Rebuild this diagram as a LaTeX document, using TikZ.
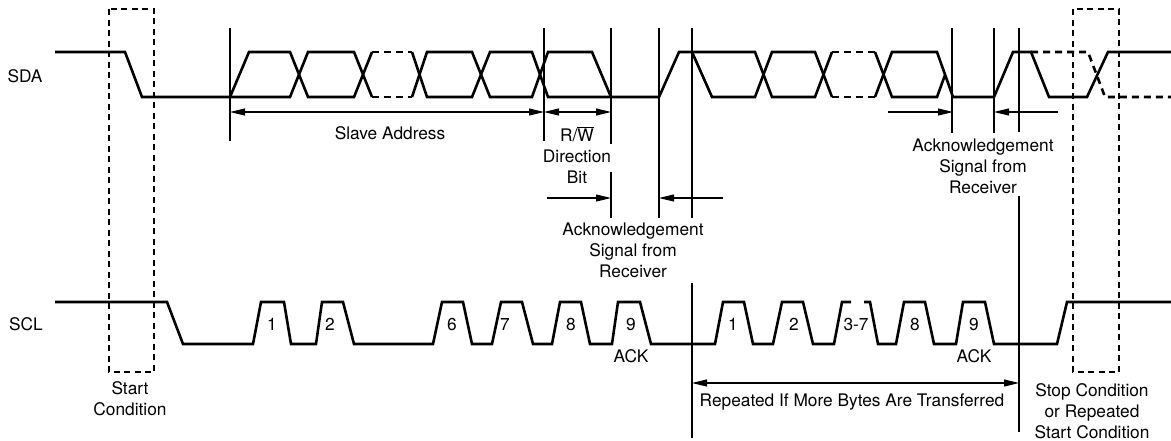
\documentclass[tikz,border=0pt]{standalone}
\usepackage{fontspec}
\setmainfont{TeX Gyre Heros}
\usetikzlibrary{arrows.meta}
\begin{document}
\begin{tikzpicture}[x=1pt,y=-1pt,
  sig/.style={line width=2.6pt},
  sigd/.style={sig, dash pattern=on 7pt off 5pt},
  guide/.style={line width=1.1pt},
  dbox/.style={line width=1.1pt, dash pattern=on 6pt off 4.5pt},
  tip/.tip={Triangle[length=15pt,width=7pt]},
  dimboth/.style={guide, tip-tip},
  dimto/.style={guide, -tip},
  lbl/.style={font=\fontsize{17.3}{21}\selectfont, inner sep=0pt, align=center},
]
\useasboundingbox (0,0) rectangle (1171,440);

% ---------- signal names ----------
\node[lbl] (sda) at (25,76) {SDA};
\node[lbl] (scl) at (26,324) {SCL};

% ---------- dashed condition boxes ----------
\draw[dbox] (109,9) rectangle (154,372);
\draw[dbox] (1073,9) rectangle (1119,372);

% ---------- SDA ----------
\draw[sig] (55,52) -- (125,52) -- (142,97) -- (290,97) -- (308,52) -- (354,52) -- (372,97);
\draw[sig] (230,97) -- (249,52) -- (290,52) -- (308,97) -- (354,97) -- (372,52);
\draw[sigd] (372,52) -- (412,52);
\draw[sigd] (372,97) -- (412,97);
\draw[sig] (412,52) -- (427,97) -- (472,97) -- (490,52) -- (532,52) -- (548,97) -- (659,97)
  -- (679,52) -- (755,52) -- (772,97) -- (815,97) -- (832,52);
\draw[sig] (412,97) -- (427,52) -- (472,52) -- (490,97) -- (532,97) -- (548,52) -- (592,52) -- (611,97);
\draw[sig] (692,52) -- (712,97) -- (755,97) -- (772,52) -- (815,52) -- (832,97);
\draw[sigd] (832,52) -- (875,52);
\draw[sigd] (832,97) -- (875,97);
\draw[sig] (875,52) -- (892,97) -- (937,97) -- (945,75);
\draw[sig] (875,97) -- (892,52) -- (937,52) -- (953,97) -- (994,97) -- (1013,52) -- (1031,52)
  -- (1049,97) -- (1087,97) -- (1108,52) -- (1171,52);
\draw[sigd] (1031,52) -- (1088,52) -- (1105,97) -- (1171,97);

% ---------- SCL ----------
\draw[sig] (55,302) -- (167,302) -- (183,344) -- (253,344) -- (261,302) -- (284,302) -- (291,344)
  -- (316,344) -- (322,302) -- (343,302) -- (354,344) -- (433,344) -- (442,302) -- (463,302)
  -- (472,344) -- (492,344) -- (501,302) -- (522,302) -- (533,344) -- (552,344) -- (560,302)
  -- (581,302) -- (590,344) -- (612,344) -- (618,302) -- (640,302) -- (651,344) -- (715,344)
  -- (723,302) -- (744,302) -- (753,344) -- (773,344) -- (782,302) -- (803,302) -- (813,344)
  -- (834,344) -- (842,302) -- (851,302);
\draw[sig] (864,302) -- (870,302) -- (878,344) -- (896,344) -- (904,302) -- (925,302) -- (934,344)
  -- (956,344) -- (963,302) -- (985,302) -- (994,344) -- (1057,344) -- (1067,302) -- (1171,302);

% pulse numbers
\node[lbl] (p1) at (272,324) {1};
\node[lbl] (p2) at (330,324) {2};
\node[lbl] (p6) at (452,324) {6};
\node[lbl] (p7) at (505,324) {7};
\node[lbl] (p8) at (571,324) {8};
\node[lbl] (p9) at (631,324) {9};
\node[lbl] (ack1) at (631,356) {ACK};
\node[lbl] (q1) at (733,324) {1};
\node[lbl] (q2) at (794,324) {2};
\node[lbl] (q37) at (856,324) {3-7};
\node[lbl] (q8) at (915,324) {8};
\node[lbl] (q9) at (974,324) {9};
\node[lbl] (ack2) at (974,356) {ACK};

% ---------- guide lines ----------
\coordinate (g1t) at (230,28);  \coordinate (g1b) at (230,141);
\coordinate (g2t) at (544,28);  \coordinate (g2b) at (544,141);
\coordinate (g3t) at (611,28);  \coordinate (g3m) at (611,144);
\coordinate (g3n) at (611,172); \coordinate (g3b) at (611,218);
\coordinate (g4t) at (659,28);  \coordinate (g4b) at (659,218);
\coordinate (g5t) at (692,28);  \coordinate (g5b) at (692,218);
\coordinate (g6t) at (692,283); \coordinate (g6b) at (692,438);
\coordinate (g7t) at (952,28);  \coordinate (g7b) at (952,133);
\coordinate (g8t) at (994,28);  \coordinate (g8b) at (994,133);
\coordinate (g9t) at (1019,28); \coordinate (g9m) at (1019,132);
\coordinate (g9n) at (1019,196); \coordinate (g9b) at (1019,432);
\draw[guide] (g1t) -- (g1b);
\draw[guide] (g2t) -- (g2b);
\draw[guide] (g3t) -- (g3m);
\draw[guide] (g3n) -- (g3b);
\draw[guide] (g4t) -- (g4b);
\draw[guide] (g5t) -- (g5b);
\draw[guide] (g6t) -- (g6b);
\draw[guide] (g7t) -- (g7b);
\draw[guide] (g8t) -- (g8b);
\draw[guide] (g9t) -- (g9m);
\draw[guide] (g9n) -- (g9b);

% ---------- dimension arrows ----------
\draw[dimboth] (230,112) -- (544,112);
\draw[dimboth] (544,112) -- (611,112);
\coordinate (a1s) at (547,198);
\coordinate (a2s) at (723,198);
\draw[dimto] (a1s) -- (611,198);
\draw[dimto] (a2s) -- (659,198);
\coordinate (a3s) at (888,112);
\coordinate (a4s) at (1058,112);
\draw[dimto] (a3s) -- (953,112);
\draw[dimto] (a4s) -- (994,112);
\draw[dimboth] (692,383) -- (1019,383);

% ---------- labels ----------
\node[lbl] (slave) at (390,133) {Slave Address};
\node[lbl] (rw) at (577,155) {R/$\overline{\mbox{W}}$\\Direction\\Bit};
\node[lbl] (ackA) at (633,250) {Acknowledgement\\Signal from\\Receiver};
\node[lbl] (ackB) at (983,166) {Acknowledgement\\Signal from\\Receiver};
\node[lbl] (start) at (130,399) {Start\\Condition};
\node[lbl] (rep) at (852,402) {Repeated If More Bytes Are Transferred};
\node[lbl] (stop) at (1092,411) {Stop Condition\\or Repeated\\Start Condition};
\end{tikzpicture}
\end{document}
